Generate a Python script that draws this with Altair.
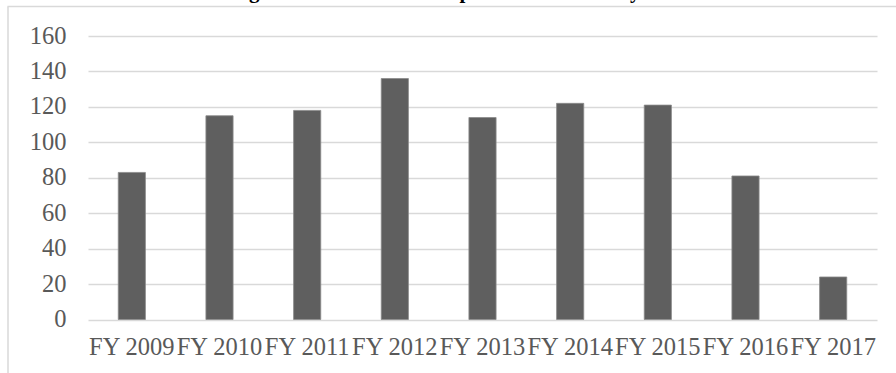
import altair as alt
import pandas as pd

years = ["FY 2009", "FY 2010", "FY 2011", "FY 2012", "FY 2013",
         "FY 2014", "FY 2015", "FY 2016", "FY 2017"]
values = [83, 115, 118, 136, 114, 122, 121, 81, 24]
y_ticks = [0, 20, 40, 60, 80, 100, 120, 140, 160]
title_text = "During the Obama and Trump Administration by Fiscal Year"

df = pd.DataFrame({"year": years, "value": values})

W, H = 789, 283.5
FONT = "Liberation Serif"
LABEL_COLOR = "#595959"
GRID = "#d9d9d9"

bars = alt.Chart(df).mark_bar(color="#5f5f5f", stroke="#8a8a8a", strokeWidth=0.8).encode(
    x=alt.X("year:N", sort=years,
            scale=alt.Scale(paddingInner=0.69, paddingOuter=0.345),
            axis=alt.Axis(title=None, labelAngle=0, domain=False, ticks=False,
                          labelFont=FONT, labelFontSize=24.5, labelColor=LABEL_COLOR,
                          labelPadding=16, labelBaseline="top", labelOverlap=False)),
    y=alt.Y("value:Q", scale=alt.Scale(domain=[0, 160], nice=False),
            axis=alt.Axis(title=None, values=y_ticks, domain=False, ticks=False,
                          grid=True, gridColor=GRID, gridWidth=1.5,
                          labelFont=FONT, labelFontSize=24.5, labelColor=LABEL_COLOR,
                          labelPadding=22, labelBaseline="middle")),
)

one = pd.DataFrame({"k": [0]})
frame_left = alt.Chart(one).mark_rule(color=GRID, strokeWidth=1.5).encode(
    x=alt.value(-80), y=alt.value(-29.5), y2=alt.value(400))
frame_top = alt.Chart(one).mark_rule(color=GRID, strokeWidth=1.5).encode(
    x=alt.value(-80.5), x2=alt.value(900), y=alt.value(-29.5))
title = alt.Chart(one).mark_text(font=FONT, fontSize=21, fontWeight="bold",
                                 color="#000000", baseline="alphabetic", align="center",
                                 text=title_text).encode(
    x=alt.value(382), y=alt.value(-38.5))

chart = alt.layer(frame_left, frame_top, title, bars).properties(
    width=W, height=H,
    autosize=alt.AutoSizeParams(type="none"),
    padding={"left": 88, "top": 36, "right": 19, "bottom": 53.5},
).configure_view(stroke=None)

chart.save("out.html", embed_options={"renderer": "svg", "actions": False})
